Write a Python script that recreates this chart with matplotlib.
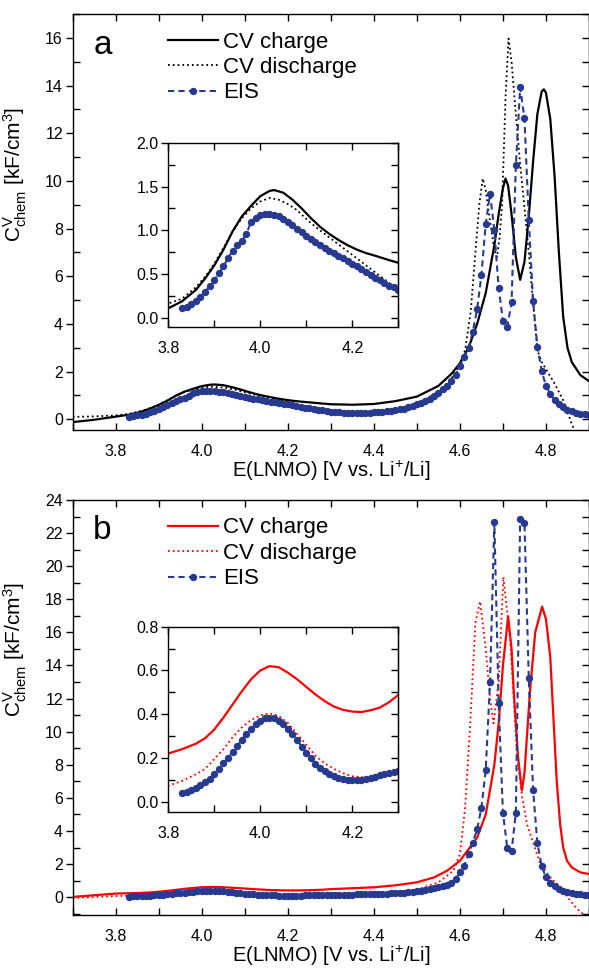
import numpy as np
import matplotlib
matplotlib.use('Agg')
import matplotlib.pyplot as plt
from matplotlib.ticker import MultipleLocator, FormatStrFormatter

plt.rcParams['font.family'] = ['Liberation Sans', 'DejaVu Sans']
plt.rcParams['mathtext.fontset'] = 'custom'
plt.rcParams['mathtext.rm'] = 'Liberation Sans'
plt.rcParams['mathtext.it'] = 'Liberation Sans:italic'

# ---------------- panel a (black) ----------------
a_charge_x = [3.70, 3.75, 3.80, 3.83, 3.86, 3.88, 3.90, 3.92, 3.94, 3.96, 3.98, 4.00, 4.02,
              4.03, 4.05, 4.07, 4.09, 4.11, 4.13, 4.15, 4.17, 4.19, 4.21, 4.23, 4.25, 4.28,
              4.30, 4.35, 4.40, 4.45, 4.50, 4.55, 4.58, 4.60, 4.62, 4.64, 4.66,
              4.68, 4.69, 4.70, 4.706, 4.712, 4.72, 4.73, 4.74, 4.75, 4.76, 4.77, 4.78, 4.79,
              4.795, 4.80, 4.81, 4.82, 4.83, 4.84, 4.85, 4.86, 4.88, 4.90]
a_charge_y = [-0.12, -0.02, 0.11, 0.19, 0.32, 0.45, 0.60, 0.78, 0.99, 1.16, 1.28, 1.39, 1.45,
              1.46, 1.43, 1.35, 1.25, 1.14, 1.04, 0.96, 0.89, 0.83, 0.78, 0.74, 0.71, 0.66,
              0.63, 0.61, 0.64, 0.76, 0.95, 1.40, 1.90, 2.35, 3.00, 4.00, 5.30,
              7.30, 8.60, 9.70, 10.10, 9.80, 8.60, 6.80, 5.85, 6.60, 8.50, 10.80, 12.80, 13.75,
              13.84, 13.70, 12.60, 10.20, 7.00, 4.30, 3.00, 2.40, 1.85, 1.60]

a_dis_x = [3.70, 3.75, 3.80, 3.83, 3.86, 3.88, 3.90, 3.92, 3.94, 3.96, 3.98, 4.00, 4.02, 4.04,
           4.06, 4.08, 4.10, 4.12, 4.14, 4.16, 4.18, 4.20, 4.22, 4.24, 4.26, 4.28, 4.30,
           4.35, 4.40, 4.45, 4.50, 4.55, 4.58, 4.60, 4.612, 4.625, 4.636,
           4.645, 4.653, 4.66, 4.67, 4.68, 4.686, 4.692, 4.698, 4.706, 4.713, 4.72, 4.73, 4.74,
           4.75, 4.76, 4.77, 4.78, 4.79, 4.80, 4.82, 4.84, 4.86, 4.87]
a_dis_y = [0.10, 0.12, 0.165, 0.22, 0.35, 0.47, 0.62, 0.80, 0.99, 1.14, 1.25, 1.33, 1.37, 1.35,
           1.30, 1.23, 1.13, 1.04, 0.96, 0.88, 0.80, 0.72, 0.64, 0.56, 0.48, 0.40, 0.32,
           0.28, 0.30, 0.40, 0.62, 1.15, 1.70, 2.30, 2.90, 4.50, 7.00,
           9.00, 10.10, 9.60, 8.30, 7.10, 6.80, 7.60, 9.00, 13.50, 15.97, 15.00, 12.80, 10.70,
           8.90, 7.00, 4.90, 2.90, 2.40, 2.10, 1.50, 0.80, -0.20, -0.60]

eis_x = np.round(np.arange(3.83, 4.905, 0.01), 2)
a_eis_y = [0.11, 0.13, 0.16, 0.19, 0.24, 0.30, 0.36, 0.43, 0.51, 0.59,
           0.68, 0.77, 0.83, 0.88, 0.96, 1.10, 1.14, 1.17, 1.19, 1.19,
           1.18, 1.16, 1.13, 1.10, 1.06, 1.02, 0.98, 0.94, 0.90, 0.87,
           0.83, 0.80, 0.77, 0.74, 0.71, 0.68, 0.65, 0.62, 0.59, 0.56,
           0.52, 0.49, 0.46, 0.43, 0.40, 0.37, 0.35, 0.32, 0.30, 0.29,
           0.28, 0.28, 0.27, 0.27, 0.27, 0.27, 0.28, 0.29, 0.30, 0.31,
           0.33, 0.35, 0.38, 0.41, 0.45, 0.50, 0.56, 0.62, 0.69, 0.77,
           0.86, 0.97, 1.10, 1.25, 1.40, 1.60, 1.85, 2.25, 2.60, 2.98,
           3.68, 4.62, 6.06, 8.20, 9.47, 7.92, 5.50, 4.13, 3.87, 4.90,
           10.66, 13.93, 12.62, 8.37, 4.97, 3.05, 2.02, 1.41, 1.05, 0.80,
           0.62, 0.50, 0.40, 0.33, 0.28, 0.24, 0.21, 0.19]

# ---------------- panel b (red) ----------------
b_charge_x = [3.70, 3.75, 3.80, 3.83, 3.86, 3.88, 3.90, 3.92, 3.94, 3.96, 3.98, 4.00, 4.02,
              4.04, 4.06, 4.08, 4.10, 4.12, 4.14, 4.16, 4.18, 4.20, 4.22, 4.24, 4.26, 4.28,
              4.30, 4.40, 4.45, 4.50, 4.54, 4.57, 4.60, 4.62, 4.64, 4.66, 4.68,
              4.69, 4.70, 4.712, 4.72, 4.725, 4.735, 4.744, 4.75, 4.763, 4.775, 4.791, 4.80,
              4.81, 4.818, 4.825, 4.833, 4.84, 4.849, 4.86, 4.88, 4.90]
b_charge_y = [0.02, 0.12, 0.22, 0.24, 0.265, 0.29, 0.33, 0.385, 0.445, 0.505, 0.56, 0.60, 0.62,
              0.615, 0.59, 0.56, 0.525, 0.49, 0.46, 0.435, 0.42, 0.412, 0.41, 0.418, 0.43, 0.455,
              0.488, 0.60, 0.72, 0.90, 1.20, 1.60, 2.20, 2.90, 3.60, 5.00, 8.00,
              10.50, 14.00, 16.96, 15.00, 12.50, 8.50, 6.45, 7.50, 12.50, 16.00, 17.56, 16.80,
              14.50, 10.50, 7.00, 4.40, 3.00, 2.20, 1.80, 1.50, 1.40]

b_dis_x = [3.70, 3.75, 3.80, 3.83, 3.86, 3.88, 3.90, 3.92, 3.94, 3.96, 3.98, 4.00, 4.02,
           4.04, 4.06, 4.08, 4.10, 4.12, 4.14, 4.16, 4.18, 4.20, 4.22, 4.24, 4.26, 4.28,
           4.30, 4.40, 4.50, 4.55, 4.585, 4.60, 4.612, 4.624, 4.636, 4.647,
           4.66, 4.67, 4.678, 4.69, 4.701, 4.717, 4.733, 4.745, 4.756, 4.787, 4.81, 4.833,
           4.85, 4.872, 4.89, 4.90]
b_dis_y = [-0.05, 0.01, 0.072, 0.095, 0.125, 0.15, 0.195, 0.24, 0.295, 0.34, 0.373, 0.395, 0.404,
           0.392, 0.36, 0.31, 0.26, 0.21, 0.175, 0.15, 0.13, 0.116, 0.112, 0.114, 0.12, 0.128,
           0.137, 0.20, 0.45, 0.90, 1.60, 2.60, 5.40, 10.50, 16.60, 17.87,
           15.00, 12.00, 10.50, 13.00, 19.35, 15.50, 8.50, 6.00, 4.40, 2.00, 1.20, 0.60,
           0.00, -0.70, -1.10, -1.30]

b_eis_y = [0.038, 0.046, 0.053, 0.063, 0.076, 0.090, 0.105, 0.125, 0.149, 0.175,
           0.201, 0.226, 0.255, 0.284, 0.310, 0.332, 0.354, 0.370, 0.381, 0.384,
           0.381, 0.370, 0.355, 0.334, 0.310, 0.282, 0.251, 0.224, 0.198, 0.174,
           0.155, 0.140, 0.127, 0.117, 0.108, 0.102, 0.099, 0.098, 0.098, 0.099,
           0.102, 0.107, 0.114, 0.122, 0.127, 0.133, 0.137, 0.140, 0.144, 0.148,
           0.152, 0.156, 0.160, 0.165, 0.170, 0.175, 0.180, 0.190, 0.200, 0.210,
           0.220, 0.230, 0.240, 0.260, 0.280, 0.300, 0.330, 0.360, 0.400, 0.440,
           0.490, 0.540, 0.600, 0.650, 0.720, 0.850, 1.100, 1.500, 1.900, 2.600,
           3.300, 4.100, 5.400, 7.700, 13.00, 22.65, 11.75, 5.100, 3.000, 2.780,
           5.100, 22.86, 22.60, 13.26, 6.500, 3.280, 1.870, 1.200, 0.850, 0.650,
           0.500, 0.400, 0.330, 0.270, 0.220, 0.180, 0.150, 0.120]

labels = ['CV charge', 'CV discharge', 'EIS']
eis_color = '#283a8e'


def style(ax, ymaj, ymin, ymaj_fmt, lab=11.5):
    ax.xaxis.set_major_locator(MultipleLocator(0.2))
    ax.xaxis.set_minor_locator(MultipleLocator(0.1))
    ax.xaxis.set_major_formatter(FormatStrFormatter('%.1f'))
    ax.yaxis.set_major_locator(MultipleLocator(ymaj))
    ax.yaxis.set_minor_locator(MultipleLocator(ymin))
    ax.yaxis.set_major_formatter(FormatStrFormatter(ymaj_fmt))
    ax.tick_params(axis='x', which='both', direction='in', top=True, bottom=True,
                   length=5, width=1, labelsize=lab, pad=10)
    ax.tick_params(axis='y', which='major', direction='out', length=5, width=1,
                   labelsize=lab, pad=2, right=False)
    ax.tick_params(axis='y', which='minor', direction='in', length=5, width=1, right=False)
    sec = ax.secondary_yaxis('right')
    sec.yaxis.set_major_locator(MultipleLocator(ymaj))
    sec.yaxis.set_minor_locator(MultipleLocator(ymin))
    sec.tick_params(which='both', direction='in', length=5, width=1, labelright=False)
    for s in ax.spines.values():
        s.set_linewidth(1)


def draw(ax, cx, cy, dx, dy, ey, col, ms=4.3):
    ax.plot(cx, cy, '-', color=col, lw=1.6, label=labels[0])
    ax.plot(dx, dy, ':', color=col, lw=1.3, label=labels[1])
    ax.plot(eis_x, ey, '--', color=eis_color, lw=1.5, marker='o', ms=ms,
            dashes=(3, 2), label=labels[2])


fig = plt.figure(figsize=(5.89, 9.68), dpi=100)
ylab = r'C$^{\mathrm{V}}_{\mathrm{chem}}$ [kF/cm$^{3}$]'
xlab = r'E(LNMO) [V vs. Li$^{+}$/Li]'

panels = [
    dict(rect=[0.1234, 0.5553, 0.8766, 0.4302], inset=[0.2857, 0.6625, 0.3905, 0.190],
         data=(a_charge_x, a_charge_y, a_dis_x, a_dis_y, a_eis_y), col='black',
         ylim=(-0.47, 17.0), ymaj=2, ymin=1, iylim=(-0.1, 2.0), iymaj=0.5, iymin=0.25,
         letter='a', ly=0.615),
    dict(rect=[0.1234, 0.0543, 0.8766, 0.4292], inset=[0.2857, 0.1615, 0.3905, 0.191],
         data=(b_charge_x, b_charge_y, b_dis_x, b_dis_y, b_eis_y), col='red',
         ylim=(-1.1, 24.0), ymaj=2, ymin=1, iylim=(-0.046, 0.8), iymaj=0.2, iymin=0.1,
         letter='b', ly=0.64),
]

for p in panels:
    ax = fig.add_axes(p['rect'])
    draw(ax, *p['data'], p['col'])
    ax.set_xlim(3.7, 4.9)
    ax.set_ylim(*p['ylim'])
    style(ax, p['ymaj'], p['ymin'], '%d')
    ax.set_xlabel(xlab, fontsize=14.5, labelpad=0)
    ax.set_ylabel(ylab, fontsize=15)
    ax.yaxis.set_label_coords(-0.085, p['ly'])
    ax.text(0.04, 0.905, p['letter'], transform=ax.transAxes, fontsize=24, va='baseline')
    ax.legend(loc='upper left', bbox_to_anchor=(0.185, 0.958), frameon=False,
              fontsize=16, handlelength=2.25, handletextpad=0.2, labelspacing=0.2,
              borderpad=0, borderaxespad=0, numpoints=1)

    ins = fig.add_axes(p['inset'])
    ins.set_zorder(5)
    draw(ins, *p['data'], p['col'])
    ins.set_xlim(3.8, 4.3)
    ins.set_ylim(*p['iylim'])
    style(ins, p['iymaj'], p['iymin'], '%.1f')

fig.savefig('out.png', dpi=100)
